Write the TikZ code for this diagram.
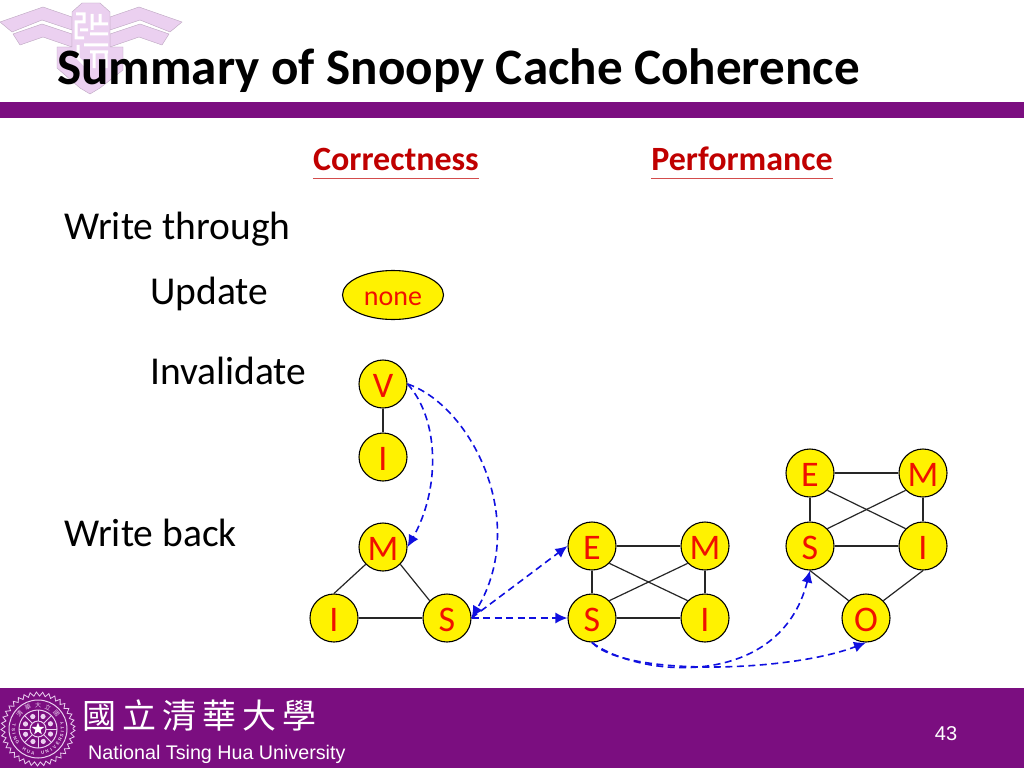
\documentclass[tikz,border=0pt]{standalone}
\usepackage{fontspec}
\setmainfont{Carlito}
\newfontfamily\arialf{Liberation Sans}
\newfontfamily\cjkf{Noto Sans CJK TC}
\usetikzlibrary{arrows.meta,decorations.pathmorphing,shapes.geometric}
\definecolor{nthu}{HTML}{7B0E80}
\definecolor{pale}{HTML}{EBD0F0}
\definecolor{redt}{HTML}{F01000}
\definecolor{headred}{HTML}{C00000}
\definecolor{flow}{HTML}{1010E0}
\tikzset{
 st/.style={circle,draw=black,line width=1.1pt,fill=yellow,minimum size=48pt,inner sep=0pt,text=redt,text height=26pt,text depth=0pt,font=\fontsize{36}{36}\selectfont},
 edge/.style={draw=black!85,line width=1.2pt},
 arr/.style={draw=flow,line width=1.6pt,dash pattern=on 7pt off 4.5pt,-{Latex[length=12pt,width=11pt]}},
 lab/.style={anchor=base west,inner sep=0pt,font=\fontsize{39.5}{40}\selectfont},
 head/.style={anchor=base,inner sep=0pt,text=headred,font=\bfseries\fontsize{34}{34}\selectfont},
 logo/.style={fill=pale,draw=pale!80!black,line width=0.4pt},
 seal/.style={draw=pale,line width=1pt}
}
\begin{document}
\begin{tikzpicture}[x=1pt,y=-1pt]
\useasboundingbox (0,0) rectangle (1024,768);
\fill[white] (0,0) rectangle (1024,768);
% crest
\fill[logo] (0,22) -- (43,7) -- (72,17) -- (72,30) -- (42,20) -- (12,32) -- cycle;
\fill[logo] (13,34) -- (42,24) -- (72,34) -- (72,47) -- (43,37) -- (20,45) -- cycle;
\fill[logo] (182,22) -- (139,7) -- (110,17) -- (110,30) -- (140,20) -- (170,32) -- cycle;
\fill[logo] (169,34) -- (140,24) -- (110,34) -- (110,47) -- (139,37) -- (162,45) -- cycle;
\fill[logo] (72,12) -- (82,3) -- (100,3) -- (110,12) -- (110,47) -- (123,47) -- (123,70) -- (100,88) -- (90,94) -- (80,88) -- (57,68) -- (57,47) -- (72,47) -- cycle;
\draw[white,line width=3pt] (76,14) -- (84,14) -- (84,22) -- (76,22) -- (76,38) -- (84,38) (80,30) -- (88,30)
  (92,14) -- (92,30) (100,14) -- (100,24) (92,24) -- (108,24) (90,34) -- (108,34)
  (78,45) -- (78,58) -- (86,66) (84,45) -- (108,45) (90,52) -- (108,52) (94,52) -- (94,68) (106,52) -- (106,68);
% title and bar
\node[anchor=base west,inner sep=0pt,font=\bfseries\fontsize{51.1}{51}\selectfont] (title) at (57,84) {Summary of Snoopy Cache Coherence};
\fill[nthu] (0,102) rectangle (1024,118);
% headers
\node[head] (hc) at (396,170) {Correctness};
\node[head] (hp) at (742,170) {Performance};
\draw[headred!70,line width=0.7pt] (hc.west|-0,178) -- (hc.east|-0,178);
\draw[headred!70,line width=0.7pt] (hp.west|-0,178) -- (hp.east|-0,178);
% labels
\node[lab] (wt) at (64,239) {Write through};
\node[lab] (up) at (150,304) {Update};
\node[lab] (inv) at (150,384) {Invalidate};
\node[lab] (wb) at (64,546) {Write back};
\node[ellipse,draw=black,line width=1.1pt,fill=yellow,minimum width=101pt,minimum height=49pt,inner sep=0pt,text=redt,font=\fontsize{28}{28}\selectfont] (none) at (393,295) {\raisebox{-4pt}[\height][\depth]{none}};
% states
\node[st] (v) at (383,384) {V};
\node[st] (i0) at (383,457) {I};
\node[st] (m1) at (383,547) {M};
\node[st] (i1) at (334,618) {I};
\node[st] (s1) at (447,618) {S};
\node[st] (e2) at (592,546) {E};
\node[st] (m2) at (705,546) {M};
\node[st] (s2) at (592,618) {S};
\node[st] (i2) at (705,618) {I};
\node[st] (e3) at (810,473) {E};
\node[st] (m3) at (923,473) {M};
\node[st] (s3) at (810,546) {S};
\node[st] (i3) at (923,546) {I};
\node[st] (o3) at (866,618) {O};
% edges
\draw[edge] (v)--(i0);
\draw[edge] (m1.225)--(i1.north); \draw[edge] (m1.315)--(s1.135); \draw[edge] (i1)--(s1);
\draw[edge] (e2)--(m2); \draw[edge] (e2)--(s2); \draw[edge] (m2)--(i2); \draw[edge] (s2)--(i2);
\draw[edge] (e2.315)--(i2.135); \draw[edge] (s2.45)--(m2.225);
\draw[edge] (e3)--(m3); \draw[edge] (e3)--(s3); \draw[edge] (m3)--(i3); \draw[edge] (s3)--(i3);
\draw[edge] (e3.315)--(i3.135); \draw[edge] (s3.45)--(m3.225);
\draw[edge] (s3.south)--(o3.135); \draw[edge] (i3.south)--(o3.45);
% flows
\draw[arr] (v.east) .. controls (440,420) and (440,490) .. (m1.east);
\draw[arr] (v.east) .. controls (470,405) and (530,520) .. (s1.east);
\draw[arr] (s1.east) -- (e2.west);
\draw[arr] (s1.east) -- (s2.west);
\draw[arr] (s2.south) .. controls (640,678) and (780,690) .. (s3.south);
\draw[arr] (s2.south) .. controls (625,677) and (790,672) .. (o3.south);
% footer
\fill[nthu] (0,688) rectangle (1024,768);
\node[anchor=base west,inner sep=0pt,text=white,font=\cjkf\fontsize{34}{34}\selectfont] (cn) at (82,728) {國\kern6pt 立\kern6pt 清\kern6pt 華\kern6pt 大\kern6pt 學};
\node[anchor=base west,inner sep=0pt,text=white,font=\arialf\fontsize{19.7}{20}\selectfont] (en) at (88,759) {National Tsing Hua University};
\node[anchor=base,inner sep=0pt,text=white,font=\arialf\fontsize{20}{20}\selectfont] (pg) at (946,740) {43};
% seal
\begin{scope}[shift={(38,729)}]
\draw[pale,line width=0.8pt,decorate,decoration={zigzag,segment length=6pt,amplitude=2pt}] (0,0) circle[radius=35];
\draw[seal] (0,0) circle[radius=29];
\draw[seal] (0,0) circle[radius=19];
\draw[seal] (0,0) circle[radius=8];
\foreach \a in {0,45,...,315}{\draw[seal] (\a:8) -- (\a:19);}
\foreach \a in {22,67,...,337}{\fill[pale] (\a:13.5) circle[radius=2.6];}
\node[star,star points=5,star point ratio=2.4,fill=white,inner sep=0pt,minimum size=13pt] (sealstar) at (0,0) {};
\foreach \c/\th [count=\i] in {T/170,S/182,I/192,N/202,G/213,H/236,U/247,A/258,U/281,N/292,I/303,V/313,E/324,R/335,S/345,I/354,T/3,Y/13}{
  \pgfmathsetmacro{\ro}{\th+90}
  \node[text=pale,inner sep=0pt,rotate=\ro,font=\arialf\bfseries\fontsize{4.6}{5}\selectfont] (sl\i) at ({24.5*cos(\th)},{-24.5*sin(\th)}) {\c};
}
\foreach \c [count=\i] in {清,華,大,立,國}{
  \pgfmathsetmacro{\th}{140-(\i-1)*25}
  \pgfmathsetmacro{\ro}{\th-90}
  \node[text=pale,inner sep=0pt,rotate=\ro,font=\cjkf\fontsize{6}{6}\selectfont] (sc\i) at ({24*cos(\th)},{-24*sin(\th)}) {\c};
}
\end{scope}
\end{tikzpicture}
\end{document}
